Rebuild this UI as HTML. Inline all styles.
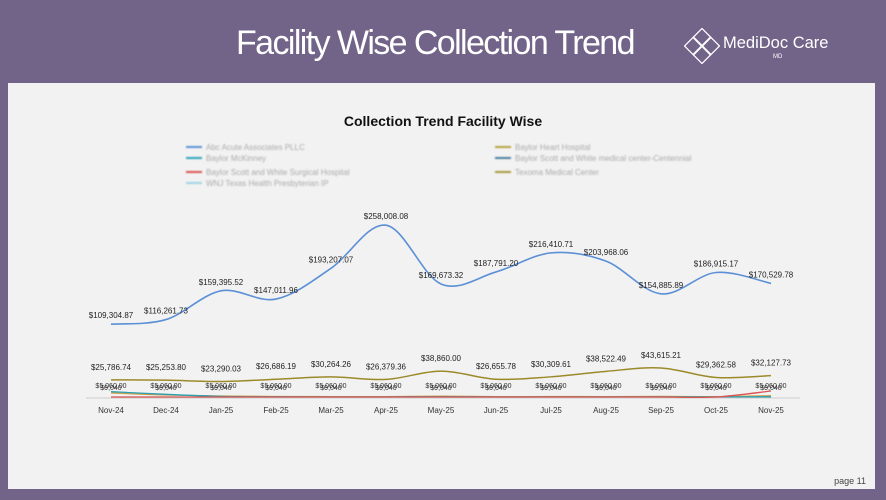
<!DOCTYPE html><html><head><meta charset="utf-8"><style>
body{margin:0;width:886px;height:500px;background:#726389;overflow:hidden;font-family:"Liberation Sans",sans-serif}
.panel{position:absolute;left:8px;top:83px;width:867px;height:406px;background:#f2f2f2}
.title{position:absolute;left:236px;top:24px;color:#fff;font-size:34px;letter-spacing:-1.6px}
.logo{position:absolute;left:723px;top:34px;color:#fff;font-size:16.5px}
.md{position:absolute;left:773px;top:54px;color:#fff;font-size:6px}
</style></head><body>
<div class="title">Facility Wise Collection Trend</div>
<svg style="position:absolute;left:684px;top:28px" width="36" height="36" viewBox="0 0 36 36" fill="none" stroke="#fff" stroke-width="1.3"><rect x="12" y="3" width="12" height="12" transform="rotate(45 18 9)"/><rect x="12" y="21" width="12" height="12" transform="rotate(45 18 27)"/><rect x="3" y="12" width="12" height="12" transform="rotate(45 9 18)"/><rect x="21" y="12" width="12" height="12" transform="rotate(45 27 18)"/></svg>
<div class="logo">MediDoc Care</div><div class="md">MD</div>
<div class="panel"></div>
<svg id="c" style="position:absolute;left:0;top:0" width="886" height="500"></svg>
<script>
const s=document.getElementById('c');let h='';
h+='<text x="443" y="126" text-anchor="middle" font-size="14" font-weight="bold" fill="#111">Collection Trend Facility Wise</text>';
h+='<g filter="url(#b)"><defs><filter id="b"><feGaussianBlur stdDeviation="0.8"/></filter></defs>';
const lg=[[186,147,'#5b8fd6','Abc Acute Associates PLLC'],[186,158,'#2aa6b8','Baylor McKinney'],[186,172,'#d9534f','Baylor Scott and White Surgical Hospital'],[186,183,'#9fd4e0','WNJ Texas Health Presbyterian IP'],[495,147,'#b5a13a','Baylor Heart Hospital'],[495,158,'#4a7fa0','Baylor Scott and White medical center-Centennial'],[495,172,'#a8993a','Texoma Medical Center']];
lg.forEach(l=>{h+=`<line x1="${l[0]}" x2="${l[0]+16}" y1="${l[1]}" y2="${l[1]}" stroke="${l[2]}" stroke-width="2"/><text x="${l[0]+20}" y="${l[1]+3}" font-size="8" fill="#aaa">${l[3]}</text>`});
h+='</g>';
const X=i=>111+i*55,Y=v=>397-v*0.000666;
function path(vals){const p=vals.map((v,i)=>[X(i),Y(v)]);let d=`M${p[0][0]},${p[0][1]}`;for(let i=0;i<p.length-1;i++){const a=p[i-1]||p[i],b=p[i],c=p[i+1],e=p[i+2]||c;d+=` C${b[0]+(c[0]-a[0])/6},${b[1]+(c[1]-a[1])/6} ${c[0]-(e[0]-b[0])/6},${c[1]-(e[1]-b[1])/6} ${c[0]},${c[1]}`}return d}
const blue=[109304.87,116261.73,159395.52,147011.96,193207.07,258008.08,169673.32,187791.20,216410.71,203968.06,154885.89,186915.17,170529.78];
const olive=[25786.74,25253.80,23290.03,26686.19,30264.26,26379.36,38860.00,26655.78,30309.61,38522.49,43615.21,29362.58,32127.73];
const f=v=>'$'+v.toLocaleString('en-US',{minimumFractionDigits:2});
h+=`<line x1="86" x2="800" y1="398" y2="398" stroke="#ccc"/>`;
const small=[6000,3000,1500,800,600,500,1200,500,700,600,900,500,2000];
h+=`<path d="${path(small)}" fill="none" stroke="#c9a04a" stroke-width="1.3"/>`;
h+=`<path d="${path([8000,4000,900,300,200,200,300,200,200,200,200,200,300])}" fill="none" stroke="#2a9fb0" stroke-width="1.3"/>`;
h+=`<path d="${path([0,0,0,0,0,0,0,0,0,0,0,0,9000])}" fill="none" stroke="#d9534f" stroke-width="1.3"/>`;
h+=`<path d="${path(olive)}" fill="none" stroke="#9c8a2a" stroke-width="1.5"/>`;
h+=`<path d="${path(blue)}" fill="none" stroke="#5b8fd6" stroke-width="1.6"/>`;
const mon=['Nov-24','Dec-24','Jan-25','Feb-25','Mar-25','Apr-25','May-25','Jun-25','Jul-25','Aug-25','Sep-25','Oct-25','Nov-25'];
blue.forEach((v,i)=>{h+=`<text x="${X(i)}" y="${Y(v)-6}" text-anchor="middle" font-size="8" fill="#222">${f(v)}</text>`});
olive.forEach((v,i)=>{h+=`<text x="${X(i)}" y="${Y(v)-10}" text-anchor="middle" font-size="8" fill="#222">${f(v)}</text>`;
h+=`<text x="${X(i)}" y="388" text-anchor="middle" font-size="7" fill="#333">$5,060.00</text><text x="${X(i)}" y="390" text-anchor="middle" font-size="7" fill="#333">$9,040</text>`;
h+=`<text x="${X(i)}" y="413" text-anchor="middle" font-size="8" fill="#333">${mon[i]}</text>`});
h+=`<text x="866" y="484" text-anchor="end" font-size="9" fill="#444">page 11</text>`;
s.innerHTML=h;
</script>
</body></html>
